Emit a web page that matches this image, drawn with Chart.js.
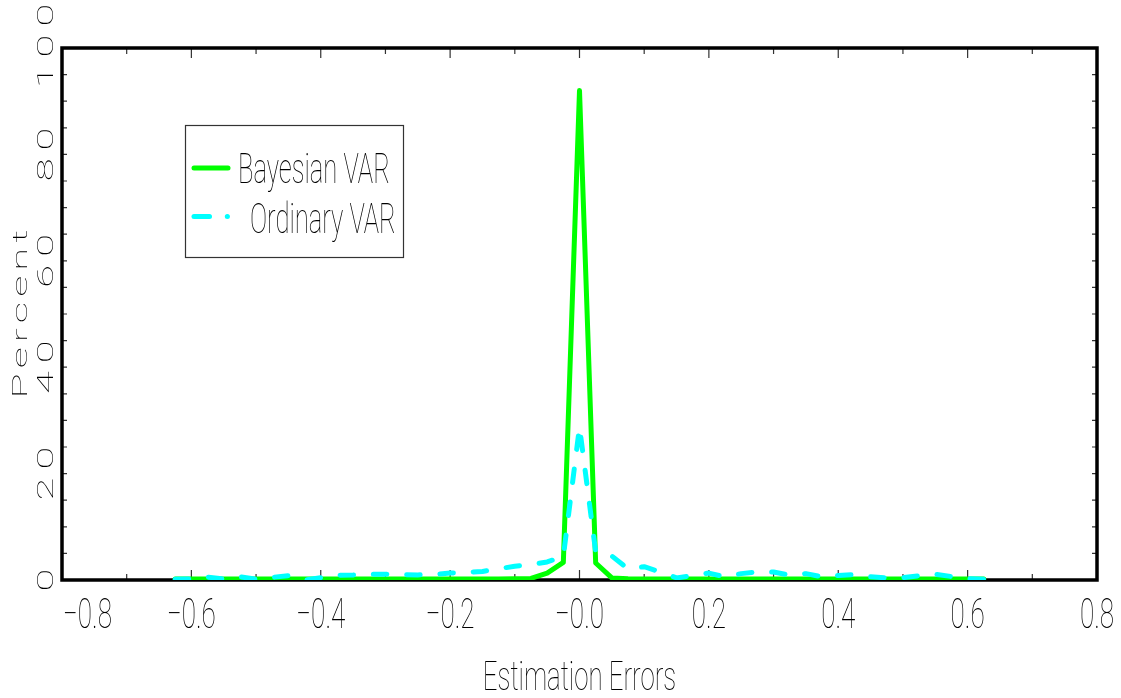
<!DOCTYPE html>
<html><head><meta charset="utf-8">
<script src="https://cdn.jsdelivr.net/npm/chart.js@4"></script>
<style>html,body{margin:0;padding:0;background:#fff}#wrap{width:1121px;height:698px;position:relative}</style>
</head><body><div id="wrap"><canvas id="c"></canvas></div>
<script>
// ---- data ----
const errorBins = [-0.625,-0.6,-0.575,-0.55,-0.525,-0.5,-0.475,-0.45,-0.425,-0.4,-0.375,-0.35,-0.325,-0.3,-0.275,-0.25,-0.225,-0.2,-0.175,-0.15,-0.125,-0.1,-0.075,-0.05,-0.025,0,0.025,0.05,0.075,0.1,0.125,0.15,0.175,0.2,0.225,0.25,0.275,0.3,0.325,0.35,0.375,0.4,0.425,0.45,0.475,0.5,0.525,0.55,0.575,0.6,0.625];
const bayesianVAR = [0.2,0.2,0.2,0.2,0.2,0.2,0.2,0.2,0.2,0.2,0.2,0.2,0.2,0.2,0.2,0.2,0.2,0.2,0.2,0.2,0.2,0.25,0.3,1.3,3.3,92,3.2,0.4,0.25,0.2,0.2,0.2,0.2,0.2,0.2,0.2,0.2,0.2,0.2,0.2,0.2,0.2,0.2,0.2,0.2,0.2,0.2,0.2,0.2,0.2,0.2];
const ordinaryVAR = [0.15,0.2,0.55,0.2,0.6,0.15,0.5,0.8,0.0,0.45,0.9,0.95,1.1,1.1,1.0,0.95,1.05,1.3,1.45,1.6,2.1,2.6,2.9,3.4,4.4,28.8,5.3,4.5,2.1,2.5,1.5,0.4,0.8,1.3,0.6,1.2,1.5,1.5,0.9,1.2,0.6,0.85,1.0,0.6,0.4,0.45,0.8,1.1,0.65,0.25,0.15];
const seriesNames = ['Bayesian VAR', 'Ordinary VAR'];
const xTickValues = [-0.8,-0.6,-0.4,-0.2,0,0.2,0.4,0.6,0.8];
const xTickLabels = ['\u22120.8','\u22120.6','\u22120.4','\u22120.2','\u22120.0','0.2','0.4','0.6','0.8'];
const xMajorMarks = [-0.6,-0.4,-0.2,0,0.2,0.4,0.6];
const xMinorMarks = [-0.7,-0.5,-0.3,-0.1,0.1,0.3,0.5,0.7];
const yTickValues = [0,20,40,60,80,100];
const yTickLabels = ['0','20','40','60','80','100'];
const yMarks = [5,10,15,20,25,30,35,40,45,50,55,60,65,70,75,80,85,90,95];
const xTitle = 'Estimation Errors';
const yTitle = 'Percent';

const FONT = 'Roboto, Lato, "Open Sans", sans-serif';
const W = '100';

function drawText(ctx, str, x, y, o) {
  ctx.save();
  ctx.translate(x, y);
  if (o.rotate) ctx.rotate(-Math.PI / 2);
  ctx.font = o.font;
  ctx.fillStyle = o.color || '#000';
  ctx.textBaseline = 'alphabetic';
  ctx.textAlign = 'left';
  const sx = o.sx || 1, sp = o.spacing || 0;
  const chars = Array.from(str);
  let total;
  if (sp === 0) total = ctx.measureText(str).width * sx;
  else {
    total = 0;
    chars.forEach((c, i) => { total += ctx.measureText(c).width * sx + (i < chars.length - 1 ? sp : 0); });
  }
  let start = 0;
  if (o.align === 'center') start = -total / 2;
  else if (o.align === 'right') start = -total;
  if (sp === 0) {
    ctx.scale(sx, 1);
    ctx.fillText(str, start / sx, 0);
  } else {
    let acc = start;
    chars.forEach(c => {
      ctx.save();
      ctx.translate(acc, 0);
      ctx.scale(sx, 1);
      ctx.fillText(c, 0, 0);
      ctx.restore();
      acc += ctx.measureText(c).width * sx + sp;
    });
  }
  ctx.restore();
}

const framePlugin = {
  id: 'frame',
  beforeDatasetsDraw(chart) {
    const ctx = chart.ctx, a = chart.chartArea;
    const xs = chart.scales.x, ys = chart.scales.y;
    ctx.save();
    ctx.strokeStyle = '#333';
    ctx.lineWidth = 1.2;
    ctx.beginPath();
    xMajorMarks.forEach(v => {
      const px = xs.getPixelForValue(v);
      ctx.moveTo(px, a.bottom); ctx.lineTo(px, a.bottom - 10);
      ctx.moveTo(px, a.top); ctx.lineTo(px, a.top + 10);
    });
    xMinorMarks.forEach(v => {
      const px = xs.getPixelForValue(v);
      ctx.moveTo(px, a.bottom); ctx.lineTo(px, a.bottom - 6);
      ctx.moveTo(px, a.top); ctx.lineTo(px, a.top + 6);
    });
    yMarks.forEach(v => {
      const py = ys.getPixelForValue(v);
      ctx.moveTo(a.left, py); ctx.lineTo(a.left + 5, py);
      ctx.moveTo(a.right, py); ctx.lineTo(a.right - 5, py);
    });
    ctx.stroke();
    ctx.strokeStyle = '#000';
    ctx.lineWidth = 3.5;
    ctx.strokeRect(a.left, a.top, a.right - a.left, a.bottom - a.top);
    ctx.restore();

    xTickValues.forEach((v, i) => {
      const px = xs.getPixelForValue(v);
      drawText(ctx, xTickLabels[i], px + (i === 0 ? 1 : 0), 628,
        { font: W + ' 42px ' + FONT, sx: 0.62, align: i === 0 ? 'left' : 'center', color: '#000' });
    });
    yTickValues.forEach((v, i) => {
      const py = ys.getPixelForValue(v);
      drawText(ctx, yTickLabels[i], 53, py + (i === yTickValues.length - 1 ? -2 : 0),
        { font: W + ' 22px ' + FONT, sx: 1.9, spacing: 8, align: 'center', rotate: true, color: '#000' });
    });
    drawText(ctx, xTitle, (a.left + a.right) / 2, 690,
      { font: W + ' 41px ' + FONT, sx: 0.63, align: 'center', color: '#000' });
    drawText(ctx, yTitle, 27, 314,
      { font: W + ' 21px ' + FONT, sx: 2.0, spacing: 5, align: 'center', rotate: true, color: '#000' });
  },
  afterDatasetsDraw(chart) {
    const ctx = chart.ctx;
    ctx.save();
    ctx.fillStyle = '#fff';
    ctx.fillRect(185.5, 125.5, 218, 132);
    ctx.strokeStyle = '#333';
    ctx.lineWidth = 1.2;
    ctx.strokeRect(185.5, 125.5, 218, 132);
    ctx.lineCap = 'round';
    ctx.lineWidth = 5;
    ctx.strokeStyle = '#00ff00';
    ctx.beginPath(); ctx.moveTo(194, 168); ctx.lineTo(228, 168); ctx.stroke();
    ctx.strokeStyle = '#00ffff';
    ctx.beginPath(); ctx.moveTo(194, 216.5); ctx.lineTo(209.5, 216.5); ctx.stroke();
    ctx.beginPath(); ctx.moveTo(227.3, 216.5); ctx.lineTo(227.4, 216.5); ctx.stroke();
    ctx.restore();
    drawText(ctx, seriesNames[0], 238, 183, { font: W + ' 42px ' + FONT, sx: 0.61, align: 'left', color: '#000' });
    drawText(ctx, seriesNames[1], 250, 233, { font: W + ' 42px ' + FONT, sx: 0.61, align: 'left', color: '#000' });
  }
};

new Chart(document.getElementById('c'), {
  type: 'line',
  data: {
    datasets: [
      {
        label: seriesNames[0],
        data: errorBins.map((x, i) => ({ x, y: bayesianVAR[i] })),
        borderColor: '#00ff00',
        borderWidth: 5,
        borderJoinStyle: 'round',
        borderCapStyle: 'round',
        pointRadius: 0,
        tension: 0,
        fill: false,
        order: 2
      },
      {
        label: seriesNames[1],
        data: errorBins.map((x, i) => ({ x, y: ordinaryVAR[i] })),
        borderColor: '#00ffff',
        borderWidth: 5,
        borderDash: [13.5, 19.8],
        borderJoinStyle: 'round',
        borderCapStyle: 'round',
        pointRadius: 0,
        tension: 0,
        fill: false,
        order: 1
      }
    ]
  },
  options: {
    responsive: true,
    maintainAspectRatio: false,
    animation: false,
    layout: { padding: { left: 62, right: 24, top: 48, bottom: 118 } },
    plugins: { legend: { display: false }, tooltip: { enabled: false } },
    scales: {
      x: { type: 'linear', min: -0.8, max: 0.8, display: false },
      y: { type: 'linear', min: 0, max: 100, display: false }
    }
  },
  plugins: [framePlugin]
});
</script>
</body></html>
